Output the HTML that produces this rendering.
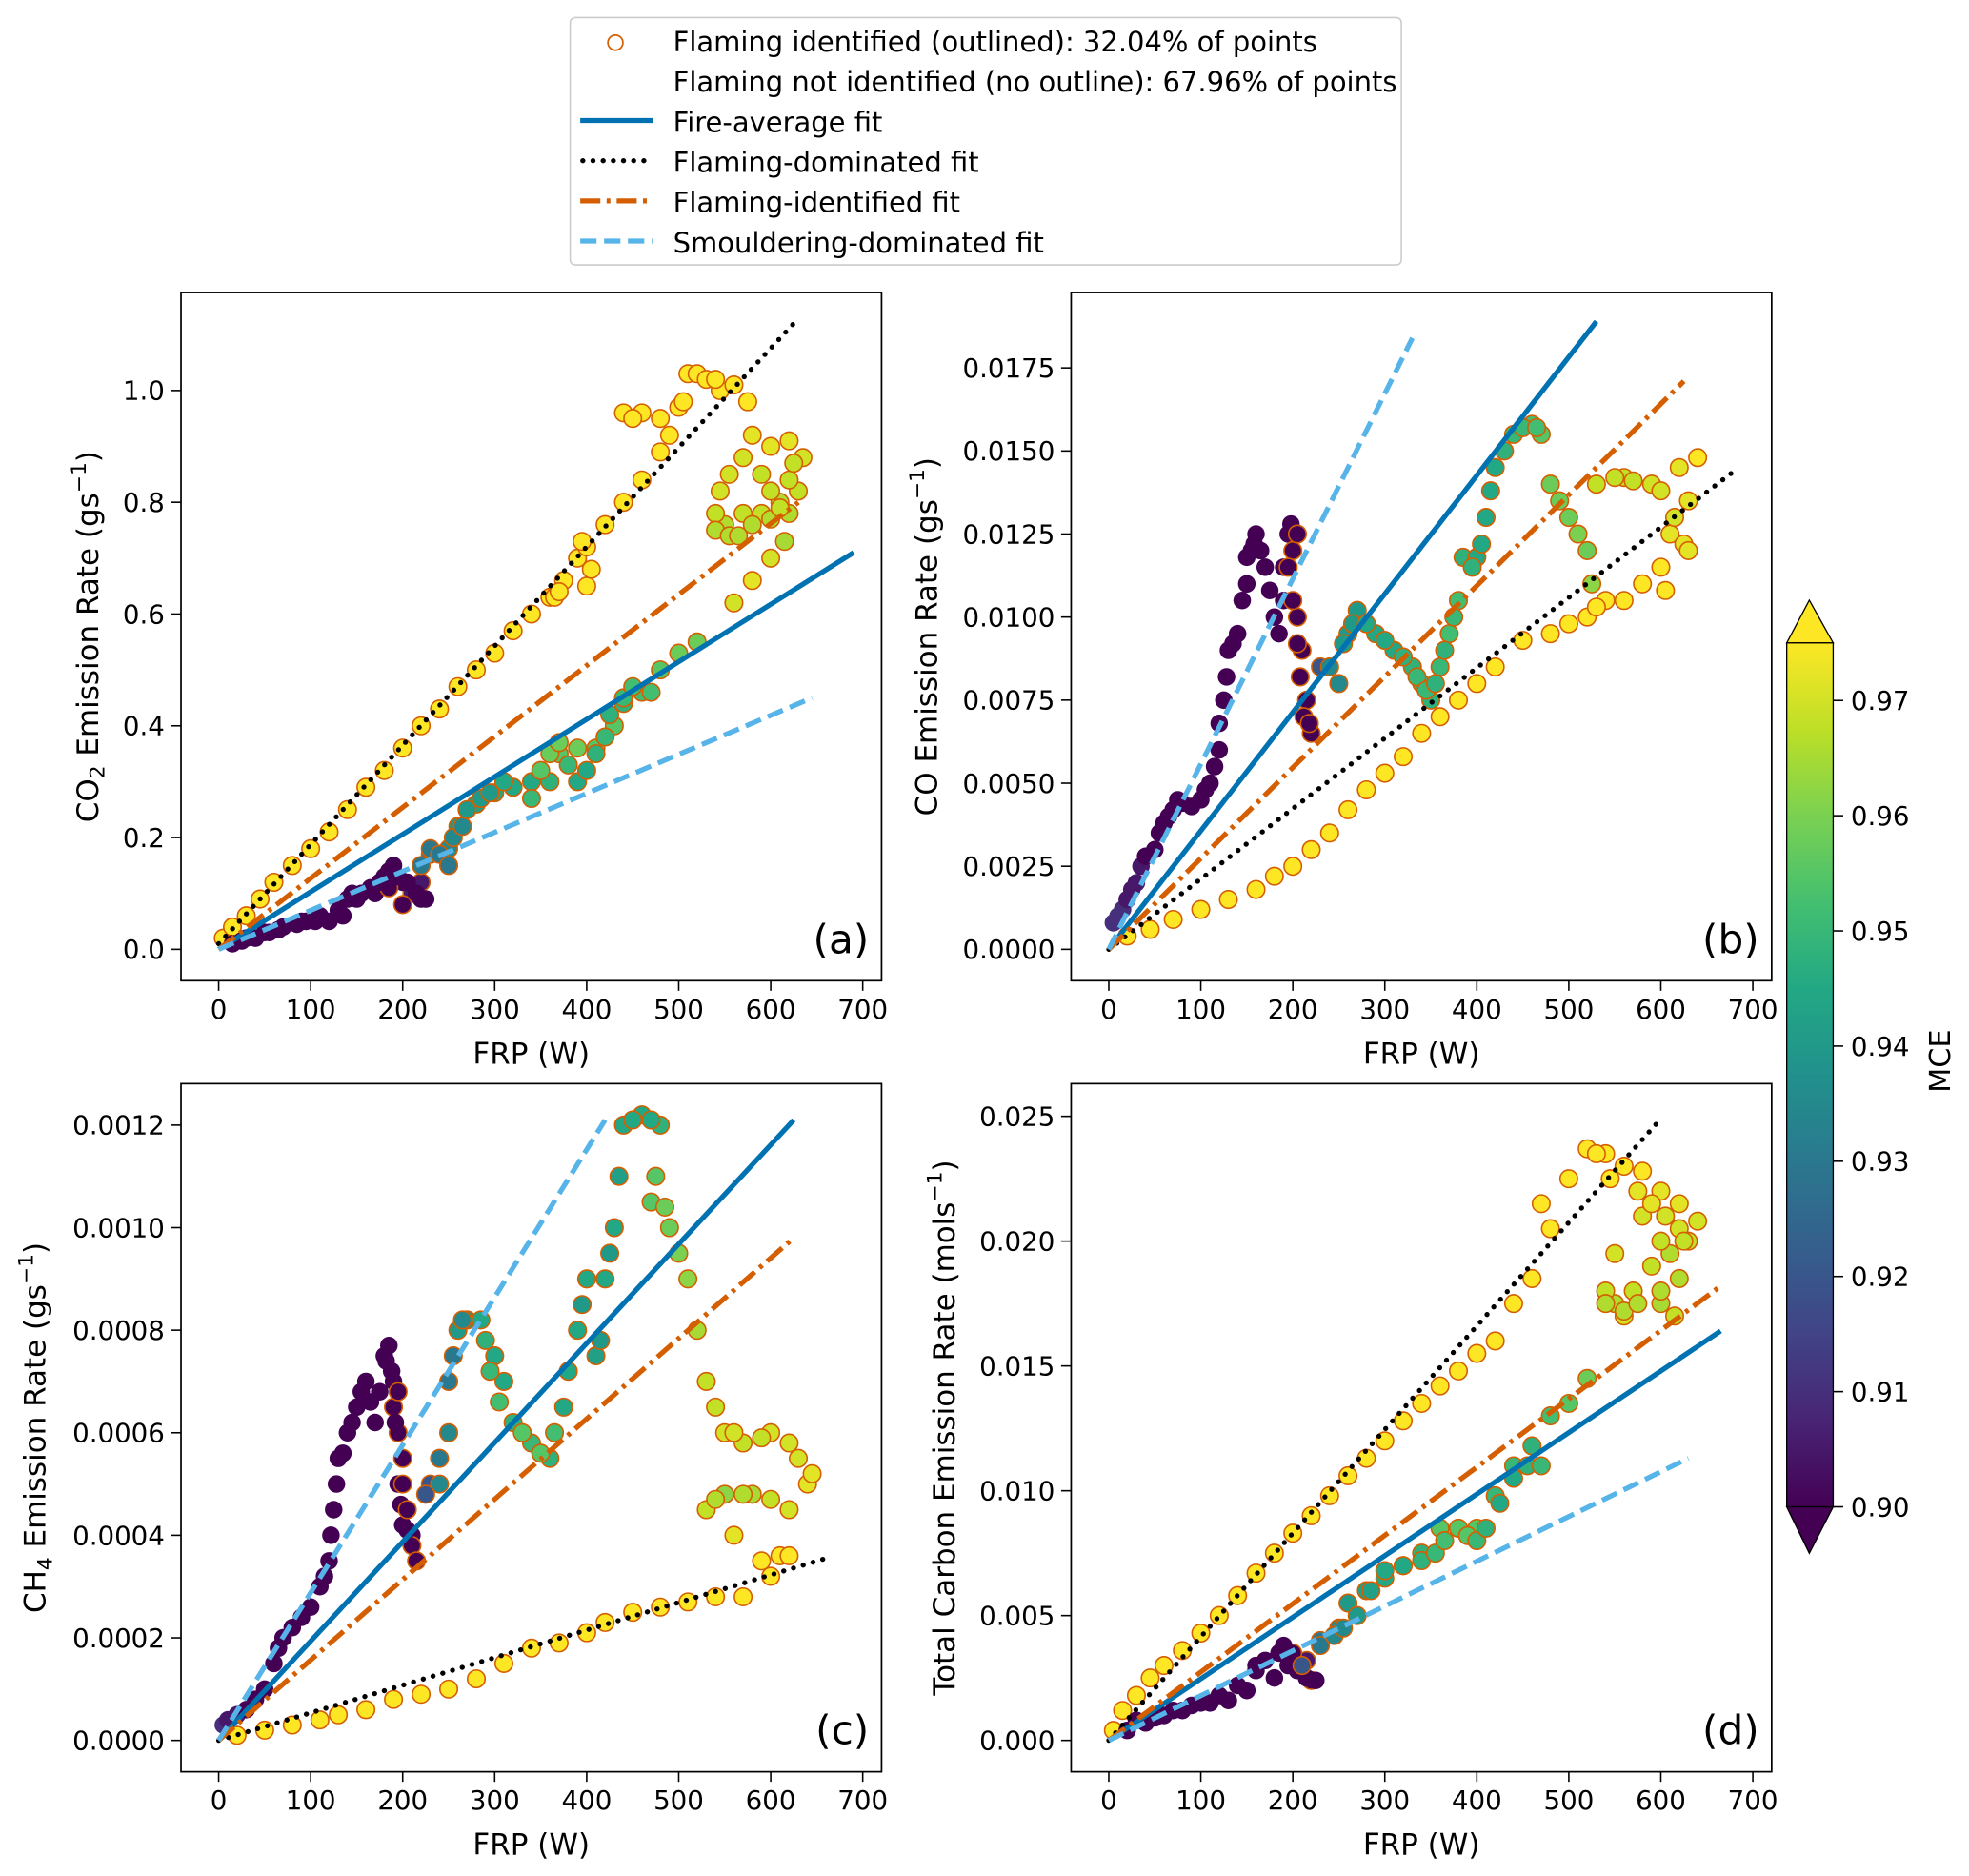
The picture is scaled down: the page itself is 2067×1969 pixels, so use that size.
<!DOCTYPE html>
<html><head><meta charset="utf-8"><style>
html,body{margin:0;padding:0;background:#fff}
svg{display:block;font-family:"DejaVu Sans","Liberation Sans",sans-serif}
</style></head><body>
<svg id="fig" width="2067" height="1969" viewBox="0 0 1568 1494" xmlns="http://www.w3.org/2000/svg">
<defs>
<linearGradient id="vir" x1="0" y1="1" x2="0" y2="0">
<stop offset="0" stop-color="#440154"/><stop offset="0.1" stop-color="#482475"/><stop offset="0.2" stop-color="#414487"/><stop offset="0.3" stop-color="#355f8d"/><stop offset="0.4" stop-color="#2a788e"/><stop offset="0.5" stop-color="#21918c"/><stop offset="0.6" stop-color="#22a884"/><stop offset="0.7" stop-color="#44bf70"/><stop offset="0.8" stop-color="#7ad151"/><stop offset="0.9" stop-color="#bddf26"/><stop offset="1" stop-color="#fde725"/>
</linearGradient>
</defs>
<g id="legend">
<rect x="454" y="14" width="662" height="197" rx="4" fill="#fff" stroke="#ccc" stroke-width="1.2"/>
<circle cx="490" cy="34" r="6" fill="none" stroke="#d55e00" stroke-width="1.3"/>
<text x="536" y="41" font-size="22">Flaming identified (outlined): 32.04% of points</text>
<text x="536" y="73" font-size="22">Flaming not identified (no outline): 67.96% of points</text>
<line x1="462" y1="96" x2="520" y2="96" stroke="#0072b2" stroke-width="4"/>
<text x="536" y="105" font-size="22">Fire-average fit</text>
<line x1="464" y1="128" x2="520" y2="128" stroke="#000" stroke-width="4" stroke-dasharray="0.1 8" stroke-linecap="round"/>
<text x="536" y="137" font-size="22">Flaming-dominated fit</text>
<line x1="462" y1="160" x2="520" y2="160" stroke="#d55e00" stroke-width="4" stroke-dasharray="16 5 3 5"/>
<text x="536" y="169" font-size="22">Flaming-identified fit</text>
<line x1="462" y1="192" x2="520" y2="192" stroke="#56b4e9" stroke-width="4" stroke-dasharray="13 6"/>
<text x="536" y="201" font-size="22">Smouldering-dominated fit</text>
</g>
<g id="cbar">
<polygon points="1423,512 1441,478 1460,512" fill="#fde725" stroke="#000" stroke-width="1"/>
<polygon points="1423,1200 1441,1237 1460,1200" fill="#440154" stroke="#000" stroke-width="1"/>
<rect x="1423" y="512" width="37" height="688" fill="url(#vir)" stroke="#000" stroke-width="1"/>
<text x="1553" y="845" font-size="23" text-anchor="middle" transform="rotate(-90 1553 845)">MCE</text>
</g>
<g id="panels"></g>
</svg>
<script>
// ---- data (frp W, value, MCE, flaming-identified flag) ----
const aFRP=[5,15,30,45,60,80,100,120,140,160,180,200,220,240,260,280,300,320,340,360,375,390,400,420,440,460,480,490,460,480,510,520,530,545,560,575,580,600,620,635,630,610,590,570,550,540,545,555,570,590,600,620,615,600,580,560,520,500,480,460,440,430,410,390,370,360,340,320,300,280,260,250,230,220,210,200,190,180,170,150,130,110,90,70,50,30,15,220,200,185,
25,40,55,65,85,95,105,120,135,140,145,155,165,175,185,195,205,215,225,
220,230,240,250,255,265,270,285,295,310,
340,350,360,370,380,390,400,410,420,425,440,450,470,
540,555,565,580,600,610,620,625,440,450,500,505,540,365,370,400,405,395];
const aVal=[0.02,0.04,0.06,0.09,0.12,0.15,0.18,0.21,0.25,0.29,0.32,0.36,0.40,0.43,0.47,0.50,0.53,0.57,0.60,0.63,0.66,0.70,0.72,0.76,0.80,0.84,0.89,0.92,0.96,0.95,1.03,1.03,1.02,1.0,1.01,0.98,0.92,0.90,0.91,0.88,0.82,0.80,0.78,0.78,0.76,0.78,0.82,0.85,0.88,0.85,0.82,0.78,0.73,0.70,0.66,0.62,0.55,0.53,0.50,0.46,0.44,0.40,0.36,0.36,0.35,0.30,0.30,0.29,0.28,0.26,0.22,0.18,0.17,0.12,0.10,0.12,0.15,0.13,0.10,0.09,0.07,0.06,0.05,0.04,0.03,0.02,0.01,0.09,0.08,0.11,
0.015,0.02,0.03,0.035,0.045,0.05,0.05,0.05,0.06,0.09,0.1,0.1,0.11,0.12,0.14,0.13,0.12,0.1,0.09,
0.15,0.18,0.17,0.15,0.2,0.22,0.25,0.27,0.28,0.3,
0.27,0.32,0.35,0.37,0.33,0.30,0.32,0.35,0.38,0.42,0.45,0.47,0.46,
0.75,0.74,0.74,0.76,0.77,0.79,0.84,0.87,0.96,0.95,0.97,0.98,1.02,0.63,0.64,0.65,0.68,0.73];
const aMCE=[0.975,0.975,0.975,0.975,0.975,0.975,0.975,0.975,0.975,0.975,0.975,0.975,0.975,0.975,0.975,0.975,0.975,0.975,0.975,0.975,0.975,0.975,0.975,0.975,0.975,0.975,0.975,0.975,0.975,0.975,0.975,0.975,0.975,0.975,0.975,0.975,0.972,0.972,0.972,0.97,0.968,0.966,0.968,0.968,0.966,0.968,0.97,0.97,0.97,0.968,0.968,0.966,0.965,0.97,0.972,0.97,0.958,0.958,0.955,0.952,0.948,0.955,0.955,0.958,0.955,0.948,0.945,0.945,0.945,0.942,0.94,0.935,0.93,0.905,0.905,0.9,0.9,0.9,0.9,0.9,0.9,0.9,0.9,0.9,0.9,0.9,0.9,0.9,0.9,0.9,
0.9,0.9,0.9,0.9,0.9,0.9,0.9,0.9,0.9,0.9,0.9,0.9,0.9,0.9,0.9,0.9,0.9,0.9,0.9,
0.93,0.93,0.93,0.93,0.935,0.935,0.94,0.94,0.94,0.945,
0.95,0.955,0.958,0.958,0.95,0.945,0.945,0.948,0.95,0.948,0.95,0.952,0.952,
0.966,0.966,0.966,0.966,0.966,0.968,0.968,0.968,0.975,0.975,0.975,0.975,0.975,0.975,0.975,0.975,0.975,0.975];
const aFlag=[1,1,1,1,1,1,1,1,1,1,1,1,1,1,1,1,1,1,1,1,1,1,1,1,1,1,1,1,1,1,1,1,1,1,1,1,1,1,1,1,1,1,1,1,1,1,1,1,1,1,1,1,1,1,1,1,1,1,1,1,1,1,1,1,1,1,1,1,1,1,1,1,1,1,1,0,0,0,0,0,0,0,0,0,0,0,0,0,1,1,
0,0,0,0,0,0,0,0,0,0,0,0,0,0,0,0,0,0,0,
1,1,1,1,1,1,1,1,1,1,
1,1,1,1,1,1,1,1,1,1,1,1,1,
1,1,1,1,1,1,1,1,1,1,1,1,1,1,1,1,1,1];

const bFRP=[5,15,25,35,50,60,70,80,100,110,120,125,130,140,150,155,160,170,180,190,195,200,205,210,215,220,230,250,260,270,290,310,330,340,350,360,370,380,385,400,410,420,440,460,470,480,500,520,530,560,590,620,640,630,610,600,580,540,520,500,480,450,420,400,380,360,340,320,300,280,260,240,220,200,180,160,130,100,70,45,20,
10,20,30,40,55,65,75,90,105,115,120,128,135,145,150,158,165,175,185,190,198,
195,200,205,208,212,218,205,
240,255,265,280,300,320,335,345,355,365,375,395,405,415,430,450,465,490,510,525,
550,570,600,615,625,630,605,560,530];
const bVal=[0.0008,0.0012,0.0018,0.0025,0.003,0.0038,0.0042,0.0044,0.0045,0.005,0.006,0.0075,0.009,0.0095,0.011,0.012,0.0125,0.0115,0.01,0.0105,0.0125,0.012,0.01,0.009,0.0075,0.0065,0.0085,0.008,0.0095,0.0102,0.0095,0.009,0.0085,0.008,0.0075,0.0085,0.0095,0.0105,0.0118,0.0118,0.013,0.0145,0.0155,0.0158,0.0155,0.014,0.013,0.012,0.014,0.0142,0.014,0.0145,0.0148,0.0135,0.0125,0.0115,0.011,0.0105,0.01,0.0098,0.0095,0.0093,0.0085,0.008,0.0075,0.007,0.0065,0.0058,0.0053,0.0048,0.0042,0.0035,0.003,0.0025,0.0022,0.0018,0.0015,0.0012,0.0009,0.0006,0.0004,
0.001,0.0015,0.002,0.0028,0.0035,0.004,0.0045,0.0043,0.0048,0.0055,0.0068,0.0082,0.0092,0.0105,0.0118,0.0122,0.012,0.0108,0.0095,0.0115,0.0128,
0.0115,0.0105,0.0092,0.0082,0.007,0.0068,0.0125,
0.0085,0.0092,0.0098,0.0098,0.0093,0.0088,0.0082,0.0078,0.008,0.009,0.01,0.0115,0.0122,0.0138,0.015,0.0157,0.0157,0.0135,0.0125,0.011,
0.0142,0.0141,0.0138,0.013,0.0122,0.012,0.0108,0.0105,0.0103];
const bMCE=[0.91,0.91,0.905,0.905,0.9,0.9,0.9,0.9,0.9,0.9,0.9,0.9,0.9,0.9,0.9,0.9,0.9,0.9,0.9,0.9,0.9,0.9,0.9,0.9,0.9,0.9,0.92,0.935,0.94,0.94,0.945,0.945,0.948,0.95,0.948,0.95,0.952,0.952,0.948,0.945,0.945,0.945,0.95,0.952,0.955,0.958,0.958,0.958,0.968,0.968,0.97,0.972,0.975,0.972,0.972,0.975,0.975,0.975,0.975,0.975,0.975,0.975,0.975,0.975,0.975,0.975,0.975,0.975,0.975,0.975,0.975,0.975,0.975,0.975,0.975,0.975,0.975,0.975,0.975,0.975,0.975,
0.91,0.905,0.905,0.9,0.9,0.9,0.9,0.9,0.9,0.9,0.9,0.9,0.9,0.9,0.9,0.9,0.9,0.9,0.9,0.9,0.9,
0.9,0.9,0.9,0.9,0.9,0.9,0.9,
0.935,0.94,0.94,0.945,0.945,0.948,0.95,0.95,0.948,0.948,0.95,0.948,0.945,0.945,0.948,0.95,0.952,0.958,0.96,0.962,
0.968,0.968,0.97,0.97,0.972,0.972,0.975,0.975,0.975];
const bFlag=[0,0,0,0,0,0,0,0,0,0,0,0,0,0,0,0,0,0,0,0,0,1,1,1,1,1,1,1,1,1,1,1,1,1,1,1,1,1,1,1,1,1,1,1,1,1,1,1,1,1,1,1,1,1,1,1,1,1,1,1,1,1,1,1,1,1,1,1,1,1,1,1,1,1,1,1,1,1,1,1,1,
0,0,0,0,0,0,0,0,0,0,0,0,0,0,0,0,0,0,0,0,0,
1,1,1,1,1,1,1,
1,1,1,1,1,1,1,1,1,1,1,1,1,1,1,1,1,1,1,1,
1,1,1,1,1,1,1,1,1];

const cFRP=[5,20,40,60,70,90,110,120,125,130,140,150,160,170,180,185,190,195,200,210,190,195,200,210,230,240,250,260,270,285,300,310,320,340,360,375,390,400,410,420,430,440,460,480,470,490,510,520,530,550,570,600,620,640,620,580,550,530,560,590,610,620,600,570,540,510,480,450,420,400,370,340,310,280,250,220,190,160,130,110,80,50,20,
10,30,50,65,80,100,115,122,128,135,145,155,165,175,182,188,192,198,205,
195,200,205,215,225,240,250,255,265,
290,295,305,330,350,365,380,395,415,425,435,450,470,475,485,500,540,560,590,630,645,600,570,540];
const cVal=[0.00003,0.00005,0.00008,0.00015,0.0002,0.00024,0.0003,0.00035,0.00045,0.00055,0.0006,0.00065,0.0007,0.00062,0.00075,0.00077,0.0007,0.0005,0.00042,0.0004,0.00065,0.0006,0.0005,0.00038,0.0005,0.0005,0.0006,0.0008,0.00082,0.00082,0.00075,0.0007,0.00062,0.00058,0.00055,0.00065,0.0008,0.0009,0.00075,0.0009,0.001,0.0012,0.00122,0.0012,0.00105,0.001,0.0009,0.0008,0.0007,0.0006,0.00058,0.0006,0.00058,0.0005,0.00045,0.00048,0.00048,0.00045,0.0004,0.00035,0.00036,0.00036,0.00032,0.00028,0.00028,0.00027,0.00026,0.00025,0.00023,0.00021,0.00019,0.00018,0.00015,0.00012,0.0001,0.00009,0.00008,0.00006,0.00005,0.00004,0.00003,0.00002,0.00001,
0.00004,0.00006,0.0001,0.00018,0.00022,0.00026,0.00032,0.0004,0.0005,0.00056,0.00062,0.00068,0.00066,0.00068,0.00074,0.00072,0.00062,0.00046,0.00041,
0.00068,0.00055,0.00045,0.00035,0.00048,0.00055,0.0007,0.00075,0.00082,
0.00078,0.00072,0.00066,0.0006,0.00056,0.0006,0.00072,0.00085,0.00078,0.00095,0.0011,0.00121,0.00121,0.0011,0.00104,0.00095,0.00065,0.0006,0.00059,0.00055,0.00052,0.00047,0.00048,0.00047];
const cMCE=[0.91,0.905,0.9,0.9,0.9,0.9,0.9,0.9,0.9,0.9,0.9,0.9,0.9,0.9,0.9,0.9,0.9,0.9,0.9,0.9,0.9,0.9,0.9,0.9,0.92,0.935,0.935,0.94,0.94,0.945,0.945,0.945,0.948,0.95,0.948,0.945,0.945,0.945,0.942,0.945,0.945,0.945,0.945,0.948,0.955,0.958,0.962,0.965,0.968,0.97,0.968,0.97,0.97,0.972,0.97,0.965,0.962,0.968,0.972,0.975,0.975,0.975,0.975,0.975,0.975,0.975,0.975,0.975,0.975,0.975,0.975,0.975,0.975,0.975,0.975,0.975,0.975,0.975,0.975,0.975,0.975,0.975,0.975,
0.905,0.9,0.9,0.9,0.9,0.9,0.9,0.9,0.9,0.9,0.9,0.9,0.9,0.9,0.9,0.9,0.9,0.9,0.9,
0.9,0.9,0.9,0.9,0.92,0.93,0.93,0.93,0.935,
0.948,0.95,0.952,0.955,0.955,0.952,0.945,0.94,0.94,0.94,0.942,0.945,0.945,0.955,0.958,0.96,0.968,0.97,0.968,0.97,0.972,0.968,0.966,0.966];
const cFlag=[0,0,0,0,0,0,0,0,0,0,0,0,0,0,0,0,0,0,0,0,1,1,1,1,1,1,1,1,1,1,1,1,1,1,1,1,1,1,1,1,1,1,1,1,1,1,1,1,1,1,1,1,1,1,1,1,1,1,1,1,1,1,1,1,1,1,1,1,1,1,1,1,1,1,1,1,1,1,1,1,1,1,1,
0,0,0,0,0,0,0,0,0,0,0,0,0,0,0,0,0,0,0,
1,1,1,1,1,1,1,1,1,
1,1,1,1,1,1,1,1,1,1,1,1,1,1,1,1,1,1,1,1,1,1,1,1];

const dFRP=[5,15,30,45,60,80,100,120,140,160,180,200,220,240,260,280,300,320,340,360,380,400,420,440,460,480,470,500,520,540,560,580,600,620,640,630,610,590,570,550,540,550,580,600,620,600,560,520,500,480,460,440,420,400,380,360,340,320,300,280,260,250,230,215,200,190,180,160,140,120,100,80,60,40,20,220,
30,50,70,90,110,130,150,160,170,185,195,205,215,225,
210,230,245,255,270,285,300,320,340,355,365,380,390,400,410,425,440,455,470,
530,545,575,590,605,620,625,540,560,575,600,615];
const dVal=[0.0004,0.0012,0.0018,0.0025,0.003,0.0036,0.0043,0.005,0.0058,0.0067,0.0075,0.0083,0.009,0.0098,0.0106,0.0113,0.012,0.0128,0.0135,0.0142,0.0148,0.0155,0.016,0.0175,0.0185,0.0205,0.0215,0.0225,0.0237,0.0235,0.023,0.0228,0.022,0.0215,0.0208,0.02,0.0195,0.019,0.018,0.0175,0.018,0.0195,0.021,0.02,0.0185,0.0175,0.017,0.0145,0.0135,0.013,0.0118,0.011,0.0098,0.0085,0.0085,0.0085,0.0075,0.007,0.0065,0.006,0.0055,0.0045,0.004,0.0032,0.0035,0.0038,0.0025,0.0028,0.0022,0.0018,0.0015,0.0012,0.001,0.0007,0.0004,0.0024,
0.0008,0.0009,0.0012,0.0014,0.0015,0.0016,0.002,0.003,0.0032,0.0035,0.003,0.0028,0.0025,0.0024,
0.003,0.0038,0.0042,0.0045,0.005,0.006,0.0068,0.007,0.0072,0.0075,0.008,0.0085,0.0082,0.008,0.0085,0.0095,0.0105,0.011,0.011,
0.0235,0.0225,0.022,0.0215,0.021,0.0205,0.02,0.0175,0.0172,0.0175,0.018,0.017];
const dMCE=[0.975,0.975,0.975,0.975,0.975,0.975,0.975,0.975,0.975,0.975,0.975,0.975,0.975,0.975,0.975,0.975,0.975,0.975,0.975,0.975,0.975,0.975,0.975,0.975,0.975,0.975,0.975,0.975,0.975,0.975,0.975,0.975,0.972,0.972,0.97,0.968,0.966,0.968,0.968,0.966,0.968,0.97,0.97,0.968,0.966,0.965,0.97,0.958,0.955,0.952,0.948,0.95,0.95,0.955,0.955,0.955,0.948,0.945,0.945,0.942,0.94,0.935,0.93,0.905,0.9,0.9,0.9,0.9,0.9,0.9,0.9,0.9,0.9,0.9,0.9,0.9,
0.9,0.9,0.9,0.9,0.9,0.9,0.9,0.9,0.9,0.9,0.9,0.9,0.9,0.9,
0.92,0.93,0.935,0.935,0.94,0.942,0.945,0.945,0.948,0.95,0.952,0.955,0.955,0.95,0.948,0.945,0.945,0.948,0.95,
0.975,0.975,0.972,0.972,0.97,0.97,0.968,0.966,0.966,0.966,0.966,0.968];
const dFlag=[1,1,1,1,1,1,1,1,1,1,1,1,1,1,1,1,1,1,1,1,1,1,1,1,1,1,1,1,1,1,1,1,1,1,1,1,1,1,1,1,1,1,1,1,1,1,1,1,1,1,1,1,1,1,1,1,1,1,1,1,1,1,1,1,1,0,0,0,0,0,0,0,0,0,0,1,
0,0,0,0,0,0,0,0,0,0,0,0,0,0,
1,1,1,1,1,1,1,1,1,1,1,1,1,1,1,1,1,1,1,
1,1,1,1,1,1,1,1,1,1,1,1];

// fit line end points [x0,y0,x1,y1] per panel: blue, black, orange, lightblue
const aFits=[[0,0,690,0.71],[0,0.01,625,1.12],[0,0,630,0.8],[0,0,645,0.45]];
const bFits=[[0,0,530,0.0189],[0,0,680,0.0144],[0,0,625,0.0171],[0,0,330,0.0184]];
const cFits=[[0,0,625,0.00121],[0,0,660,0.000355],[0,0,625,0.00098],[0,0,420,0.00121]];
const dFits=[[0,0,665,0.0164],[0,0,600,0.0249],[0,0,665,0.0182],[0,0,630,0.0113]];

const xTicks=[0,100,200,300,400,500,600,700];
const aTicks=[0,0.2,0.4,0.6,0.8,1.0];
const aTickLabels=["0.0","0.2","0.4","0.6","0.8","1.0"];
const bTicks=[0,0.0025,0.005,0.0075,0.01,0.0125,0.015,0.0175];
const bTickLabels=["0.0000","0.0025","0.0050","0.0075","0.0100","0.0125","0.0150","0.0175"];
const cTicks=[0,0.0002,0.0004,0.0006,0.0008,0.001,0.0012];
const cTickLabels=["0.0000","0.0002","0.0004","0.0006","0.0008","0.0010","0.0012"];
const dTicks=[0,0.005,0.01,0.015,0.02,0.025];
const dTickLabels=["0.000","0.005","0.010","0.015","0.020","0.025"];
const cbTicks=[0.90,0.91,0.92,0.93,0.94,0.95,0.96,0.97];

const NS="http://www.w3.org/2000/svg";
const vir=[[68,1,84],[72,36,117],[65,68,135],[53,95,141],[42,120,142],[33,145,140],[34,168,132],[68,191,112],[122,209,81],[189,223,38],[253,231,37]];
function cmap(m){let t=(m-0.90)/0.075;t=Math.max(0,Math.min(1,t));const f=t*10,i=Math.min(9,Math.floor(f)),r=f-i;const c=vir[i].map((v,k)=>Math.round(v+(vir[i+1][k]-v)*r));return `rgb(${c})`;}
function mk(tag,attrs,parent){const e=document.createElementNS(NS,tag);for(const k in attrs)e.setAttribute(k,attrs[k]);parent.appendChild(e);return e;}
const root=document.getElementById('panels');

const panels=[
 {id:'a',L:144,R:702,T:233,B:781,x0:174,x700:687,y0:756,yTop:311,vTop:1.0,frp:aFRP,val:aVal,mce:aMCE,flag:aFlag,fits:aFits,ticks:aTicks,tl:aTickLabels,lab:['CO','2',' Emission Rate (gs','−1',')'],lx:78},
 {id:'b',L:853,R:1411,T:233,B:781,x0:883,x700:1396,y0:756,yTop:293,vTop:0.0175,frp:bFRP,val:bVal,mce:bMCE,flag:bFlag,fits:bFits,ticks:bTicks,tl:bTickLabels,lab:['CO Emission Rate (gs','','','−1',')'],lx:746},
 {id:'c',L:144,R:702,T:863,B:1411,x0:174,x700:687,y0:1386,yTop:896,vTop:0.0012,frp:cFRP,val:cVal,mce:cMCE,flag:cFlag,fits:cFits,ticks:cTicks,tl:cTickLabels,lab:['CH','4',' Emission Rate (gs','−1',')'],lx:36},
 {id:'d',L:853,R:1411,T:863,B:1411,x0:883,x700:1396,y0:1386,yTop:889,vTop:0.025,frp:dFRP,val:dVal,mce:dMCE,flag:dFlag,fits:dFits,ticks:dTicks,tl:dTickLabels,lab:['Total Carbon Emission Rate (mols','','','−1',')'],lx:760}
];
const fitStyles=[
 {stroke:'#0072b2',dash:'',cap:'butt',name:'fire-average-fit'},
 {stroke:'#000',dash:'0.1 8',cap:'round',name:'flaming-dominated-fit'},
 {stroke:'#d55e00',dash:'16 5 3 5',cap:'butt',name:'flaming-identified-fit'},
 {stroke:'#56b4e9',dash:'13 6',cap:'butt',name:'smouldering-dominated-fit'}];

panels.forEach(p=>{
 const sx=v=>p.x0+(p.x700-p.x0)*v/700;
 const sy=v=>p.y0-(p.y0-p.yTop)*v/p.vTop;
 const g=mk('g',{},root);
 
 
 const cp=mk('clipPath',{id:'clip'+p.id},g);
 mk('rect',{x:p.L,y:p.T,width:p.R-p.L,height:p.B-p.T},cp);
 const pts=mk('g',{'clip-path':`url(#clip${p.id})`},g);
 
 
 for(let i=0;i<p.frp.length;i++){
  const c=mk('circle',{cx:sx(p.frp[i]),cy:sy(p.val[i]),r:7,fill:cmap(p.mce[i]),stroke:p.flag[i]?'#d55e00':'none','stroke-width':1.2},pts);
  
  
 }
 p.fits.forEach((f,k)=>{
  const s=fitStyles[k];
  const l=mk('line',{x1:sx(f[0]),y1:sy(f[1]),x2:sx(f[2]),y2:sy(f[3]),stroke:s.stroke,'stroke-width':4,'stroke-linecap':s.cap},g);
  if(s.dash)l.setAttribute('stroke-dasharray',s.dash);
  
  
 });
 const fr=mk('rect',{x:p.L,y:p.T,width:p.R-p.L,height:p.B-p.T,fill:'none',stroke:'#000','stroke-width':1.3},g);
 
 
 xTicks.forEach(t=>{
  const x=sx(t);
  mk('line',{x1:x,x2:x,y1:p.B,y2:p.B+8,stroke:'#000','stroke-width':1.2},g);
  const tx=mk('text',{x:x,y:p.B+30,'font-size':21,'text-anchor':'middle'},g);
  tx.textContent=t;
  
  
 });
 p.ticks.forEach((t,i)=>{
  const y=sy(t);
  mk('line',{x1:p.L-8,x2:p.L,y1:y,y2:y,stroke:'#000','stroke-width':1.2},g);
  const tx=mk('text',{x:p.L-13,y:y+7.5,'font-size':21,'text-anchor':'end'},g);
  tx.textContent=p.tl[i];
  
  
 });
 const xl=mk('text',{x:(p.L+p.R)/2,y:p.B+66,'font-size':23.5,'text-anchor':'middle'},g);
 xl.textContent='FRP (W)';
 
 
 const cy=(p.T+p.B)/2;
 const yl=mk('text',{x:p.lx,y:cy,'font-size':23.5,'text-anchor':'middle',transform:`rotate(-90 ${p.lx} ${cy})`},g);
 
 
 const parts=p.lab;
 const t0=mk('tspan',{},yl);t0.textContent=parts[0];
 if(parts[1]){const t=mk('tspan',{dy:5,'font-size':16.5},yl);t.textContent=parts[1];const t2=mk('tspan',{dy:-5},yl);t2.textContent=parts[2];}
 const sup=mk('tspan',{dy:-10,'font-size':16.5},yl);sup.textContent=parts[3];
 const cl=mk('tspan',{dy:10},yl);cl.textContent=parts[4];
 const pl=mk('text',{x:p.R-10,y:p.B-22,'font-size':32,'text-anchor':'end'},g);
 pl.textContent='('+p.id+')';
 
 
});
const cb=document.getElementById('cbar');
cbTicks.forEach(t=>{
 const y=1200-(t-0.90)/0.075*688;
 mk('line',{x1:1460,x2:1468,y1:y,y2:y,stroke:'#000','stroke-width':1.2},cb);
 const tx=mk('text',{x:1474,y:y+7.5,'font-size':21},cb);
 tx.textContent=t.toFixed(2);
 
 
});
</script>
</body></html>
